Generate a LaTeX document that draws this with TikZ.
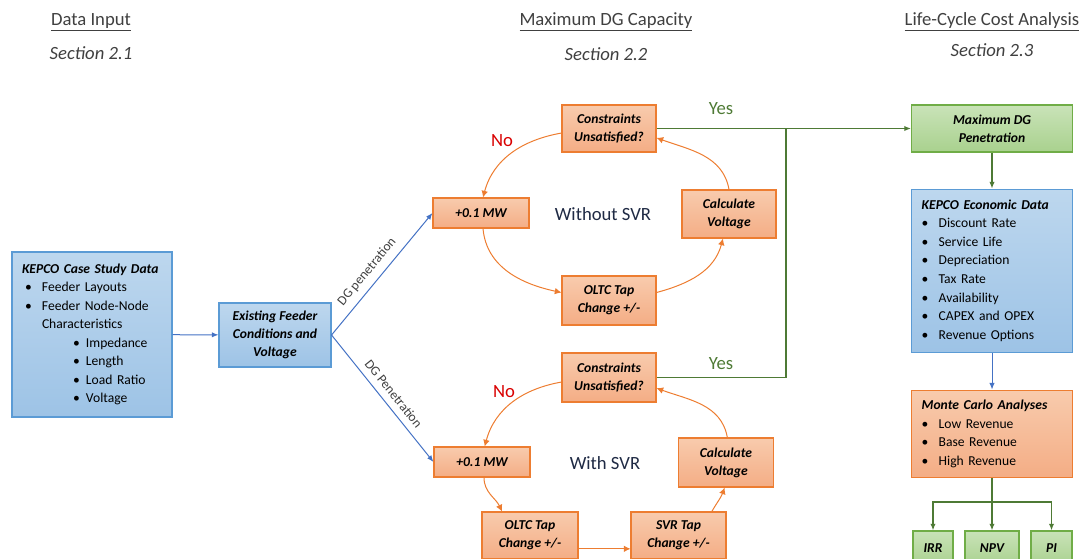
\documentclass[tikz,border=0pt]{standalone}
\usepackage{fontspec}
\setmainfont{Carlito}
\usetikzlibrary{arrows.meta,positioning}

\definecolor{orline}{HTML}{ED7D31}
\definecolor{ortop}{HTML}{F8CBAD}
\definecolor{orbot}{HTML}{F4AD85}
\definecolor{blline}{HTML}{5B9BD5}
\definecolor{bltop}{HTML}{BDD7EE}
\definecolor{blbot}{HTML}{9DC3E6}
\definecolor{grline}{HTML}{70AD47}
\definecolor{grtop}{HTML}{C9E3B8}
\definecolor{grbot}{HTML}{A9D18E}
\definecolor{grarrow}{HTML}{4E7A35}
\definecolor{blarrow}{HTML}{4472C4}
\definecolor{headtext}{HTML}{404040}
\definecolor{looptext}{HTML}{1F2A44}

\newcommand{\bul}[1]{\makebox[12.75pt][l]{\textbullet}#1}
\newcommand{\subbul}[1]{\hspace*{38.25pt}\makebox[9.75pt][l]{\textbullet}#1}

\begin{document}
\begin{tikzpicture}[
  x=0.75pt, y=-0.75pt,
  boxfont/.style={font=\fontsize{10.2}{13.5}\selectfont\bfseries\itshape},
  obox/.style={draw=orline, thick, top color=ortop, bottom color=orbot, boxfont, align=center, inner sep=1pt},
  bbox/.style={draw=blline, thick, top color=bltop, bottom color=blbot, boxfont, align=center, inner sep=1pt},
  gbox/.style={draw=grline, thick, top color=grtop, bottom color=grbot, boxfont, align=center, inner sep=1pt},
  listbox/.style={font=\fontsize{10.2}{13.9}\selectfont, align=left, inner sep=7.5pt},
  head/.style={font=\fontsize{14}{16}\selectfont, text=headtext},
  sec/.style={font=\fontsize{14}{16}\selectfont\itshape, text=headtext},
  oarr/.style={-{Latex[length=5pt,width=5pt]}, orline, line width=0.75pt},
  barr/.style={-{Latex[length=5pt,width=4pt]}, blarrow, line width=0.75pt},
  garr/.style={-{Latex[length=5pt,width=4pt]}, grarrow, line width=0.9pt},
  answer/.style={font=\fontsize{14}{16}\selectfont},
  dglabel/.style={font=\fontsize{10}{11}\selectfont, text=headtext, sloped, above=5pt, inner sep=0pt}
]
\useasboundingbox (0,0) rectangle (1085,558);

% column headings
\node[head] (h1) at (91,22) {\underline{Data Input}};
\node[sec] (s1) at (91,53) {Section 2.1};
\node[head] (h2) at (606,22) {\underline{Maximum DG Capacity}};
\node[sec] (s2) at (606,54) {Section 2.2};
\node[head] (h3) at (992,22) {\underline{Life-Cycle Cost Analysis}};
\node[sec] (s3) at (992,50) {Section 2.3};

% data input
\node[bbox, listbox, text width=105pt, minimum height=123.75pt] (case) at (92,334.5) {%
  \textbf{\textit{KEPCO Case Study Data}}\\
  \hspace*{2.25pt}\bul{Feeder Layouts}\\
  \hspace*{2.25pt}\bul{Feeder Node-Node}\\
  \hspace*{15pt}Characteristics\\
  \subbul{Impedance}\\
  \subbul{Length}\\
  \subbul{Load Ratio}\\
  \subbul{Voltage}};
\node[bbox, minimum width=84pt, minimum height=48pt] (exist) at (275,335) {Existing Feeder\\Conditions and\\Voltage};
\draw[barr] (case) -- (exist);

% loop without SVR
\node[obox, minimum width=70.5pt, minimum height=35.25pt] (c1) at (609,128.5) {Constraints\\Unsatisfied?};
\node[obox, minimum width=72pt, minimum height=22.5pt] (m1) at (481,213) {+0.1 MW};
\node[obox, minimum width=70.5pt, minimum height=36pt] (v1) at (729,214) {Calculate\\Voltage};
\node[obox, minimum width=70.5pt, minimum height=36.75pt] (t1) at (609,300.5) {OLTC Tap\\Change +/-};
\node[answer, text=looptext] (wo) at (603,214) {Without SVR};
\node[answer, text=red!85!black] (no1) at (502,141) {No};
\node[answer, text=grarrow] (yes1) at (721,109) {Yes};
\draw[oarr] ([yshift=-3.4pt]c1.west) to[out=190,in=75] ([xshift=1.5pt]m1.north);
\draw[oarr] ([xshift=1.5pt]m1.south) to[out=-85,in=168] ([yshift=6pt]t1.west);
\draw[oarr] ([yshift=6pt]t1.east) to[out=15,in=-105] ([xshift=-4.5pt]v1.south);
\draw[oarr] (v1.north) to[out=100,in=-20] ([yshift=-7pt]c1.east);

% loop with SVR
\node[obox, minimum width=70.5pt, minimum height=36.75pt] (c2) at (609,377.5) {Constraints\\Unsatisfied?};
\node[obox, minimum width=72pt, minimum height=22.5pt] (m2) at (482,462) {+0.1 MW};
\node[obox, minimum width=71.25pt, minimum height=36.75pt] (v2) at (726,462.5) {Calculate\\Voltage};
\node[obox, minimum width=72pt, minimum height=35.25pt] (t2) at (530,535.5) {OLTC Tap\\Change +/-};
\node[obox, minimum width=71.25pt, minimum height=35.25pt] (sv2) at (678.5,535.5) {SVR Tap\\Change +/-};
\node[answer, text=looptext] (wi) at (605,463) {With SVR};
\node[answer, text=red!85!black] (no2) at (504,392) {No};
\node[answer, text=grarrow] (yes2) at (721,364) {Yes};
\draw[oarr] ([yshift=-3.4pt]c2.west) to[out=190,in=75] ([xshift=2pt]m2.north);
\draw[oarr] ([xshift=1.5pt]m2.south) to[out=-90,in=115] ([xshift=-21pt]t2.north);
\draw[oarr] ([yshift=-10pt]t2.east) -- ([yshift=-10pt]sv2.west);
\draw[oarr] ([xshift=25pt]sv2.north) to[out=60,in=-110] ([xshift=-1pt]v2.south);
\draw[oarr] ([xshift=1pt]v2.north) to[out=100,in=-20] ([yshift=-8pt]c2.east);

% DG penetration
\draw[barr] (exist.east) -- node[dglabel, pos=0.45] {DG penetration} (m1.west);
\draw[barr] (exist.east) -- node[dglabel, pos=0.52] {DG Penetration} (m2.west);

% life-cycle cost analysis
\node[gbox, minimum width=120.75pt, minimum height=35.25pt] (maxdg) at (992,128.5) {Maximum DG\\Penetration};
\node[bbox, listbox, text width=105.5pt, minimum height=122.25pt, below=27pt of maxdg] (econ) {%
  \textbf{\textit{KEPCO Economic Data}}\\
  \bul{Discount Rate}\\
  \bul{Service Life}\\
  \bul{Depreciation}\\
  \bul{Tax Rate}\\
  \bul{Availability}\\
  \bul{CAPEX and OPEX}\\
  \bul{Revenue Options}};
\node[obox, listbox, text width=105.5pt, minimum height=63.75pt, below=27.75pt of econ] (mc) {%
  \textbf{\textit{Monte Carlo Analyses}}\\
  \bul{Low Revenue}\\
  \bul{Base Revenue}\\
  \bul{High Revenue}};
\node[gbox, minimum width=30pt, minimum height=26.25pt] (irr) at (933,548.5) {IRR};
\node[gbox, minimum width=40.5pt, minimum height=26.25pt] (npv) at (992,548.5) {NPV};
\node[gbox, minimum width=30.75pt, minimum height=26.25pt] (pi) at (1051.5,548.5) {PI};

\coordinate (join) at (786,128.5);
\coordinate (split) at (992,502);
\draw[garr] (c1.east) -- (maxdg.west);
\draw[grarrow, line width=0.9pt] (c2.east) -| (join);
\draw[garr] (maxdg) -- (econ);
\draw[barr] (econ) -- (mc);
\draw[grarrow, line width=2pt] (mc.south) -- (split);
\draw[garr, line width=1.2pt] (split) -| (irr.north);
\draw[garr, line width=1.2pt] (split) -- (npv.north);
\draw[garr, line width=1.2pt] (split) -| (pi.north);
\end{tikzpicture}
\end{document}
